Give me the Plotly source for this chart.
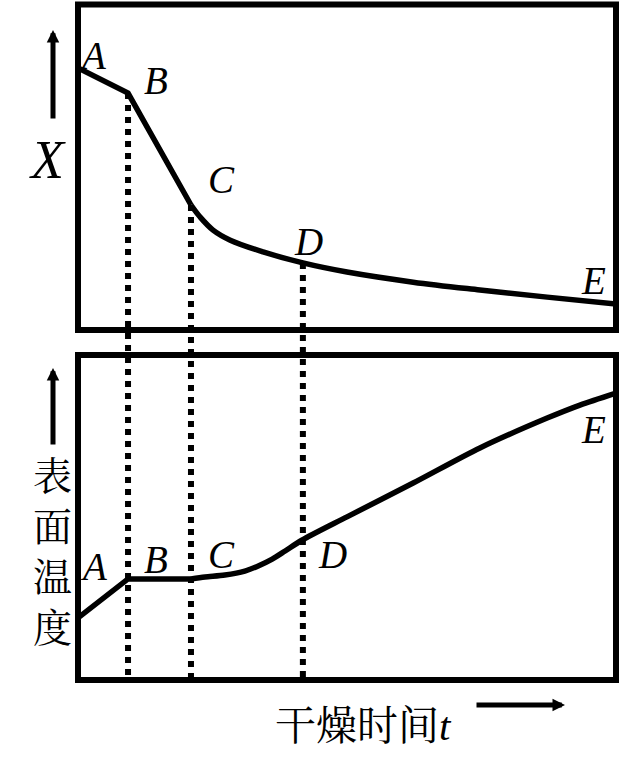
"""
Drying curves: moisture content X and surface temperature against drying time t.
"""

import plotly.graph_objects as go

W, H = 641, 774

# drying time (arbitrary units 0..10) at the stage points A, B, C, D, E
t_stage = [0.0, 0.93, 2.10, 4.18, 10.0]
stage_names = ["A", "B", "C", "D", "E"]

# moisture content X (0..10 scale)
t_x_lin = [0.0, 0.93, 2.10]
x_lin = [8.05, 7.28, 3.84]
t_x_curve = [2.10, 2.27, 2.51, 2.83, 3.44, 4.18, 5.00, 6.23, 7.47, 8.72, 10.0]
x_curve = [3.84, 3.47, 3.07, 2.76, 2.40, 2.06, 1.78, 1.47, 1.23, 1.01, 0.80]

# surface temperature (0..10 scale)
t_temp_lin = [0.0, 0.93, 2.10]
temp_lin = [1.91, 3.11, 3.11]
t_temp_curve = [2.10, 2.36, 2.73, 3.10, 3.35, 3.61, 3.85, 4.16,
                5.00, 6.23, 7.47, 8.72, 9.33, 10.0]
temp_curve = [3.11, 3.17, 3.23, 3.35, 3.51, 3.72, 3.97, 4.30,
              5.02, 6.06, 7.14, 8.06, 8.46, 8.83]

# X at the B, C, D stage points, where the dotted guides start
x_at_stage = [7.28, 3.84, 2.06]


def px_x(p):
    return p / W


def px_y(p):
    return 1 - p / H


xdom = [px_x(78), px_x(616)]
top_dom = [px_y(330), px_y(4.5)]
bot_dom = [px_y(680), px_y(355)]

serif = "Liberation Serif, Times New Roman, serif"
cjk = "Liberation Serif, Noto Serif CJK SC, Noto Sans CJK SC, serif"
line = dict(color="black", width=5.5)

fig = go.Figure()
fig.add_trace(go.Scatter(x=t_x_lin, y=x_lin, mode="lines", line=line, xaxis="x", yaxis="y"))
fig.add_trace(go.Scatter(x=t_x_curve, y=x_curve, mode="lines",
                         line=dict(line, shape="spline", smoothing=1), xaxis="x", yaxis="y"))
fig.add_trace(go.Scatter(x=t_temp_lin, y=temp_lin, mode="lines", line=line, xaxis="x2", yaxis="y2"))
fig.add_trace(go.Scatter(x=t_temp_curve, y=temp_curve, mode="lines",
                         line=dict(line, shape="spline", smoothing=0.8), xaxis="x2", yaxis="y2"))

hidden = dict(visible=False, range=[0, 10], showgrid=False, zeroline=False, fixedrange=True)
fig.update_layout(
    width=W, height=H,
    margin=dict(l=0, r=0, t=0, b=0),
    paper_bgcolor="white", plot_bgcolor="white",
    showlegend=False,
    xaxis=dict(hidden, domain=xdom, anchor="y"),
    yaxis=dict(hidden, domain=top_dom, anchor="x"),
    xaxis2=dict(hidden, domain=xdom, anchor="y2"),
    yaxis2=dict(hidden, domain=bot_dom, anchor="x2"),
)

shapes = []
# frames round both panels
for xr, yr in [("x domain", "y domain"), ("x2 domain", "y2 domain")]:
    shapes.append(dict(type="rect", xref=xr, yref=yr, x0=0, x1=1, y0=0, y1=1,
                       line=dict(color="black", width=6), layer="above"))
# dotted guides from the upper curve down to the bottom of the lower panel
for t, xv in zip(t_stage[1:4], x_at_stage):
    y_top = top_dom[0] + xv / 10 * (top_dom[1] - top_dom[0])
    shapes.append(dict(type="line", xref="x", yref="paper", x0=t, x1=t,
                       y0=y_top, y1=bot_dom[0],
                       line=dict(color="black", width=6, dash="6px,6px")))
fig.update_layout(shapes=shapes)


def label(px, py, text, family, size):
    fig.add_annotation(x=px_x(px), y=px_y(py), xref="paper", yref="paper",
                       xanchor="center", yanchor="middle",
                       text=text, showarrow=False,
                       font=dict(family=family, size=size, color="black"))


# stage letters (pixel centres of the labels)
top_pos = [(92, 52), (156, 78), (221, 177), (308, 239), (593, 277)]
bot_pos = [(93, 563), (156, 556), (221, 551), (332, 551), (593, 426)]
for name, (px, py) in zip(stage_names * 2, top_pos + bot_pos):
    label(px, py + 3, f"<i>{name}</i>", serif, 39)

# axis captions
label(47, 160, "<i>X</i>", serif, 54)
label(52, 552, "表<br>面<br>温<br>度", cjk, 39)
label(363, 726, "干燥时间<i>t</i>", cjk, 41)

# direction arrows
arrow = dict(xref="paper", yref="paper", text="", showarrow=True,
             arrowhead=2, arrowsize=0.5, arrowwidth=5, arrowcolor="black", standoff=0)
fig.add_annotation(arrow, x=px_x(53), y=px_y(30), ax=0, ay=90)
fig.add_annotation(arrow, x=px_x(53), y=px_y(368), ax=0, ay=78)
fig.add_annotation(arrow, x=px_x(565), y=px_y(705), ax=-90, ay=0)

# drop the default page margin so the figure sits at the window corner
fig.write_html("out.html", config={"displayModeBar": False},
               post_script="document.body.style.margin = '0';")
